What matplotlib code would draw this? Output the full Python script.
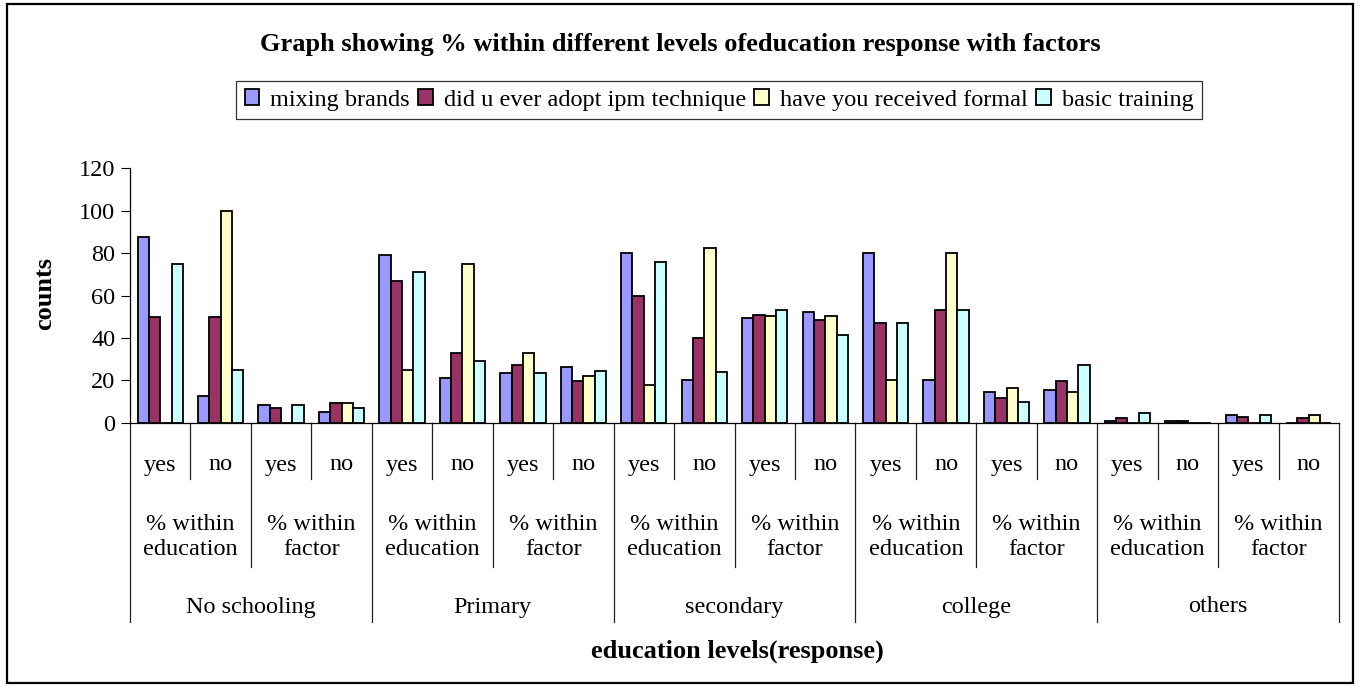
import matplotlib.pyplot as plt
import numpy as np
from matplotlib.patches import Rectangle

plt.rcParams['font.family'] = ['Liberation Serif', 'DejaVu Serif']

# Education levels, measure type and response for each of the 20 categories
groups = ['No schooling', 'Primary', 'secondary', 'college', 'others']
measures = ['% within\neducation', '% within\nfactor']
responses = ['yes', 'no']

series_names = ['mixing brands', 'did u ever adopt ipm technique',
                'have you received formal', 'basic training']
mixing_brands = [87.5, 12.5, 8.4, 5.2,
                 79, 21, 23.5, 26.5,
                 80, 20, 49.4, 52.3,
                 80, 20, 14.7, 15.5,
                 0.6, 0.8, 3.6, 0]
adopt_ipm = [50, 50, 6.9, 9.1,
             67, 33, 27.3, 19.6,
             60, 40, 50.9, 48.6,
             47, 53, 11.5, 19.6,
             2.2, 0.8, 2.8, 2.0]
formal = [0, 100, 0, 9.1,
          25, 75, 33, 21.8,
          17.7, 82.3, 50.1, 50.1,
          20, 80, 16.2, 14.7,
          0, 0, 0, 3.6]
basic_training = [75, 25, 8.4, 6.9,
                  71, 29, 23.5, 24.3,
                  76, 24, 53.3, 41.5,
                  47, 53, 9.9, 27.3,
                  4.6, 0, 3.6, 0]
colors = ['#9999FF', '#993366', '#FFFFCC', '#CCFFFF']

W, H = 1361, 687
fig = plt.figure(figsize=(W / 100, H / 100), dpi=100)
ax = fig.add_axes([130 / W, 1 - 422.7 / H, 1209 / W, 254.4 / H])

# outer chart border
fig.patches.append(Rectangle((7 / W, 4 / H), 1346 / W, 679 / H,
                             transform=fig.transFigure, fill=False,
                             edgecolor='black', linewidth=1.6))

n = len(mixing_brands)
x = np.arange(n)
width = 0.75 / 4
all_series = [mixing_brands, adopt_ipm, formal, basic_training]
for i, (vals, name, c) in enumerate(zip(all_series, series_names, colors)):
    ax.bar(x + (i - 1.5) * width, vals, width, color=c, edgecolor='black',
           linewidth=1.3, label=name)

ax.set_xlim(-0.5, n - 0.5)
ax.set_ylim(0, 120)
ax.set_yticks(np.arange(0, 121, 20))
ax.set_xticks([])
ax.tick_params(axis='y', direction='out', length=6.5, width=0.8,
               labelsize=17.5, pad=4)
for side in ['top', 'right']:
    ax.spines[side].set_visible(False)
ax.spines['left'].set_linewidth(0.9)
ax.spines['bottom'].set_linewidth(0.9)

# multi-level category axis
tr = ax.get_xaxis_transform()
ax_h = 254.4


def yfrac(ypix):
    return (422.7 - ypix) / ax_h


for b in range(n + 1):
    pos = b - 0.5
    if b % 4 == 0:
        bottom = 622
    elif b % 2 == 0:
        bottom = 567
    else:
        bottom = 479
    ax.plot([pos, pos], [0, yfrac(bottom)], color='#222222', linewidth=0.9,
            transform=tr, clip_on=False)

for k in range(n):
    ax.text(k, yfrac(465), responses[k % 2], transform=tr, ha='center',
            va='center', fontsize=17.5)
for k in range(n // 2):
    ax.text(2 * k + 0.5, yfrac(537), measures[k % 2], transform=tr,
            ha='center', va='center', fontsize=17.5, linespacing=1.2)
for k, g in enumerate(groups):
    ax.text(4 * k + 1.5, yfrac(607), g, transform=tr, ha='center',
            va='center', fontsize=17.5)

fig.text(0.5, 1 - 44 / H,
         'Graph showing % within different levels ofeducation response with factors',
         ha='center', va='center', fontsize=19, fontweight='bold')
fig.text(45 / W, 1 - 293 / H, 'counts', rotation=90, ha='center',
         va='center', fontsize=19, fontweight='bold')
fig.text(737 / W, 1 - 651 / H, 'education levels(response)', ha='center',
         va='center', fontsize=19, fontweight='bold')

leg = fig.legend(loc='center', bbox_to_anchor=(719 / W, 1 - 100 / H), ncol=4,
                 prop={'family': 'Liberation Serif', 'size': 17.5},
                 frameon=True, fancybox=False, handlelength=0.6,
                 handleheight=0.6, handletextpad=0.45, columnspacing=0.35,
                 borderpad=0.35, borderaxespad=0)
leg.get_frame().set_edgecolor('black')
leg.get_frame().set_linewidth(0.9)

fig.savefig('out.png', dpi=100)
